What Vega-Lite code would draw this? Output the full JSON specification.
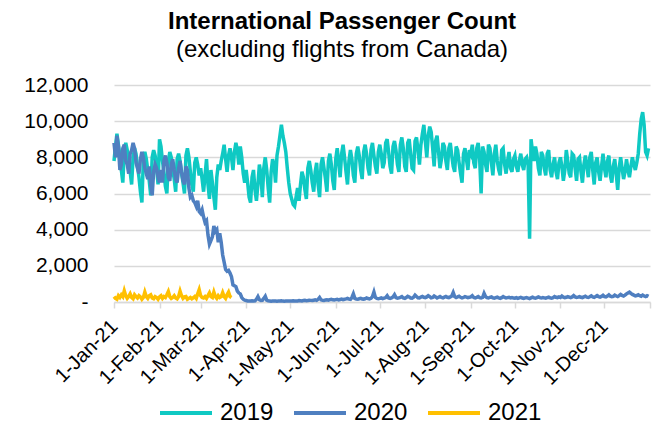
{
  "$schema": "https://vega.github.io/schema/vega-lite/v6.json",
  "autosize": {"type": "none"},
  "width": 536,
  "height": 217,
  "padding": {"left": 114, "top": 85, "right": 16, "bottom": 125},
  "background": "white",
  "title": {
    "text": "International Passenger Count",
    "subtitle": "(excluding flights from Canada)",
    "font": "Liberation Sans",
    "subtitleFont": "Liberation Sans",
    "fontSize": 24,
    "subtitleFontSize": 24,
    "fontWeight": "bold",
    "color": "#000000",
    "subtitleColor": "#000000",
    "anchor": "middle",
    "frame": "group",
    "dx": -40,
    "offset": 12,
    "subtitlePadding": 4
  },
  "data": {"values": [
{"d":"2021/1/1","2019":7800,"2020":8800,"2021":300},
{"d":"2021/1/2","2019":8600,"2020":8000,"2021":200},
{"d":"2021/1/3","2019":9300,"2020":9200,"2021":150},
{"d":"2021/1/4","2019":8700,"2020":8600,"2021":350},
{"d":"2021/1/5","2019":8100,"2020":7300,"2021":250},
{"d":"2021/1/6","2019":7300,"2020":7600,"2021":400},
{"d":"2021/1/7","2019":6600,"2020":8500,"2021":300},
{"d":"2021/1/8","2019":8300,"2020":8700,"2021":620},
{"d":"2021/1/9","2019":8800,"2020":7800,"2021":350},
{"d":"2021/1/10","2019":8400,"2020":7600,"2021":200},
{"d":"2021/1/11","2019":7700,"2020":7100,"2021":300},
{"d":"2021/1/12","2019":7200,"2020":8200,"2021":450},
{"d":"2021/1/13","2019":6500,"2020":8400,"2021":250},
{"d":"2021/1/14","2019":8000,"2020":8800,"2021":180},
{"d":"2021/1/15","2019":8500,"2020":8500,"2021":400},
{"d":"2021/1/16","2019":8200,"2020":7700,"2021":300},
{"d":"2021/1/17","2019":7500,"2020":7400,"2021":220},
{"d":"2021/1/18","2019":6900,"2020":7100,"2021":350},
{"d":"2021/1/19","2019":6100,"2020":7900,"2021":280},
{"d":"2021/1/20","2019":5500,"2020":8300,"2021":150},
{"d":"2021/1/21","2019":7900,"2020":8000,"2021":250},
{"d":"2021/1/22","2019":8300,"2020":7400,"2021":550},
{"d":"2021/1/23","2019":7900,"2020":7100,"2021":300},
{"d":"2021/1/24","2019":7300,"2020":6800,"2021":200},
{"d":"2021/1/25","2019":6700,"2020":7500,"2021":350},
{"d":"2021/1/26","2019":5900,"2020":6500,"2021":400},
{"d":"2021/1/27","2019":8000,"2020":5900,"2021":220},
{"d":"2021/1/28","2019":8400,"2020":7200,"2021":180},
{"d":"2021/1/29","2019":8100,"2020":7600,"2021":300},
{"d":"2021/1/30","2019":7400,"2020":7400,"2021":250},
{"d":"2021/1/31","2019":6500,"2020":6900,"2021":150},
{"d":"2021/2/1","2019":9000,"2020":6600,"2021":280},
{"d":"2021/2/2","2019":8600,"2020":7300,"2021":350},
{"d":"2021/2/3","2019":7800,"2020":6600,"2021":200},
{"d":"2021/2/4","2019":7200,"2020":7800,"2021":300},
{"d":"2021/2/5","2019":6400,"2020":8100,"2021":250},
{"d":"2021/2/6","2019":6000,"2020":7700,"2021":400},
{"d":"2021/2/7","2019":7800,"2020":6900,"2021":580},
{"d":"2021/2/8","2019":8300,"2020":6700,"2021":300},
{"d":"2021/2/9","2019":8000,"2020":7600,"2021":200},
{"d":"2021/2/10","2019":7300,"2020":7900,"2021":250},
{"d":"2021/2/11","2019":6800,"2020":7300,"2021":350},
{"d":"2021/2/12","2019":6100,"2020":6800,"2021":220},
{"d":"2021/2/13","2019":7900,"2020":6600,"2021":170},
{"d":"2021/2/14","2019":8200,"2020":7400,"2021":300},
{"d":"2021/2/15","2019":7800,"2020":7800,"2021":600},
{"d":"2021/2/16","2019":7100,"2020":7200,"2021":350},
{"d":"2021/2/17","2019":6600,"2020":6700,"2021":200},
{"d":"2021/2/18","2019":6000,"2020":6500,"2021":280},
{"d":"2021/2/19","2019":8100,"2020":7500,"2021":300},
{"d":"2021/2/20","2019":8500,"2020":7300,"2021":150},
{"d":"2021/2/21","2019":8000,"2020":6300,"2021":200},
{"d":"2021/2/22","2019":7200,"2020":5800,"2021":250},
{"d":"2021/2/23","2019":6500,"2020":5900,"2021":180},
{"d":"2021/2/24","2019":6100,"2020":5600,"2021":230},
{"d":"2021/2/25","2019":7700,"2020":5500,"2021":300},
{"d":"2021/2/26","2019":8000,"2020":5300,"2021":200},
{"d":"2021/2/27","2019":7600,"2020":5600,"2021":450},
{"d":"2021/2/28","2019":7000,"2020":5000,"2021":680},
{"d":"2021/3/1","2019":7400,"2020":4900,"2021":350},
{"d":"2021/3/2","2019":6800,"2020":5100,"2021":250},
{"d":"2021/3/3","2019":6100,"2020":4700,"2021":220},
{"d":"2021/3/4","2019":7000,"2020":4400,"2021":300},
{"d":"2021/3/5","2019":7900,"2020":4500,"2021":200},
{"d":"2021/3/6","2019":6500,"2020":3700,"2021":350},
{"d":"2021/3/7","2019":5700,"2020":3200,"2021":500},
{"d":"2021/3/8","2019":7300,"2020":3400,"2021":300},
{"d":"2021/3/9","2019":6600,"2020":3600,"2021":250},
{"d":"2021/3/10","2019":5800,"2020":4200,"2021":550},
{"d":"2021/3/11","2019":5100,"2020":3900,"2021":300},
{"d":"2021/3/12","2019":6900,"2020":4000,"2021":200},
{"d":"2021/3/13","2019":7600,"2020":3300,"2021":350},
{"d":"2021/3/14","2019":7300,"2020":3800,"2021":250},
{"d":"2021/3/15","2019":7800,"2020":3300,"2021":300},
{"d":"2021/3/16","2019":8200,"2020":2600,"2021":520},
{"d":"2021/3/17","2019":8700,"2020":2200,"2021":300},
{"d":"2021/3/18","2019":7900,"2020":1800,"2021":200},
{"d":"2021/3/19","2019":7200,"2020":1700,"2021":400},
{"d":"2021/3/20","2019":8100,"2020":1750,"2021":550},
{"d":"2021/3/21","2019":8500,"2020":1600,"2021":300},
{"d":"2021/3/22","2019":8000,"2020":1400,"2021":250},
{"d":"2021/3/23","2019":7300,"2020":950},
{"d":"2021/3/24","2019":8300,"2020":900},
{"d":"2021/3/25","2019":8800,"2020":850},
{"d":"2021/3/26","2019":8400,"2020":600},
{"d":"2021/3/27","2019":7600,"2020":500},
{"d":"2021/3/28","2019":8600,"2020":450},
{"d":"2021/3/29","2019":8000,"2020":250},
{"d":"2021/3/30","2019":7100,"2020":150},
{"d":"2021/3/31","2019":6600,"2020":100},
{"d":"2021/4/1","2019":7300,"2020":80},
{"d":"2021/4/2","2019":6600,"2020":60},
{"d":"2021/4/3","2019":5800,"2020":50},
{"d":"2021/4/4","2019":5500,"2020":60},
{"d":"2021/4/5","2019":6900,"2020":70},
{"d":"2021/4/6","2019":7300,"2020":50},
{"d":"2021/4/7","2019":6200,"2020":60},
{"d":"2021/4/8","2019":5600,"2020":150},
{"d":"2021/4/9","2019":6500,"2020":300},
{"d":"2021/4/10","2019":7600,"2020":120},
{"d":"2021/4/11","2019":7100,"2020":80},
{"d":"2021/4/12","2019":5800,"2020":90},
{"d":"2021/4/13","2019":7400,"2020":200},
{"d":"2021/4/14","2019":8000,"2020":320},
{"d":"2021/4/15","2019":7300,"2020":100},
{"d":"2021/4/16","2019":6300,"2020":60},
{"d":"2021/4/17","2019":5500,"2020":50},
{"d":"2021/4/18","2019":7200,"2020":40},
{"d":"2021/4/19","2019":7900,"2020":50},
{"d":"2021/4/20","2019":7600,"2020":60},
{"d":"2021/4/21","2019":6600,"2020":50},
{"d":"2021/4/22","2019":8100,"2020":40},
{"d":"2021/4/23","2019":8600,"2020":50},
{"d":"2021/4/24","2019":9200,"2020":60},
{"d":"2021/4/25","2019":9800,"2020":70},
{"d":"2021/4/26","2019":9200,"2020":50},
{"d":"2021/4/27","2019":8800,"2020":40},
{"d":"2021/4/28","2019":8300,"2020":50},
{"d":"2021/4/29","2019":7400,"2020":60},
{"d":"2021/4/30","2019":6600,"2020":50},
{"d":"2021/5/1","2019":6000,"2020":50},
{"d":"2021/5/2","2019":5700,"2020":60},
{"d":"2021/5/3","2019":5400,"2020":70},
{"d":"2021/5/4","2019":5300,"2020":60},
{"d":"2021/5/5","2019":5800,"2020":50},
{"d":"2021/5/6","2019":6300,"2020":60},
{"d":"2021/5/7","2019":5600,"2020":80},
{"d":"2021/5/8","2019":6500,"2020":70},
{"d":"2021/5/9","2019":7200,"2020":60},
{"d":"2021/5/10","2019":6900,"2020":80},
{"d":"2021/5/11","2019":6200,"2020":90},
{"d":"2021/5/12","2019":5700,"2020":70},
{"d":"2021/5/13","2019":7400,"2020":80},
{"d":"2021/5/14","2019":7800,"2020":100},
{"d":"2021/5/15","2019":7300,"2020":90},
{"d":"2021/5/16","2019":6600,"2020":80},
{"d":"2021/5/17","2019":6100,"2020":100},
{"d":"2021/5/18","2019":7200,"2020":120},
{"d":"2021/5/19","2019":7700,"2020":90},
{"d":"2021/5/20","2019":6500,"2020":150},
{"d":"2021/5/21","2019":5800,"2020":250},
{"d":"2021/5/22","2019":7600,"2020":120},
{"d":"2021/5/23","2019":8000,"2020":100},
{"d":"2021/5/24","2019":7400,"2020":90},
{"d":"2021/5/25","2019":6800,"2020":110},
{"d":"2021/5/26","2019":6100,"2020":120},
{"d":"2021/5/27","2019":7800,"2020":100},
{"d":"2021/5/28","2019":8200,"2020":130},
{"d":"2021/5/29","2019":7600,"2020":150},
{"d":"2021/5/30","2019":6700,"2020":120},
{"d":"2021/5/31","2019":6200,"2020":110},
{"d":"2021/6/1","2019":7900,"2020":130},
{"d":"2021/6/2","2019":8500,"2020":150},
{"d":"2021/6/3","2019":7700,"2020":120},
{"d":"2021/6/4","2019":6900,"2020":140},
{"d":"2021/6/5","2019":8200,"2020":160},
{"d":"2021/6/6","2019":8700,"2020":130},
{"d":"2021/6/7","2019":8000,"2020":150},
{"d":"2021/6/8","2019":7200,"2020":170},
{"d":"2021/6/9","2019":6500,"2020":200},
{"d":"2021/6/10","2019":7800,"2020":160},
{"d":"2021/6/11","2019":8400,"2020":150},
{"d":"2021/6/12","2019":7900,"2020":250},
{"d":"2021/6/13","2019":7000,"2020":450},
{"d":"2021/6/14","2019":6600,"2020":200},
{"d":"2021/6/15","2019":8200,"2020":160},
{"d":"2021/6/16","2019":8600,"2020":150},
{"d":"2021/6/17","2019":8100,"2020":180},
{"d":"2021/6/18","2019":7300,"2020":200},
{"d":"2021/6/19","2019":6800,"2020":170},
{"d":"2021/6/20","2019":8300,"2020":160},
{"d":"2021/6/21","2019":8700,"2020":180},
{"d":"2021/6/22","2019":8200,"2020":220},
{"d":"2021/6/23","2019":7400,"2020":190},
{"d":"2021/6/24","2019":7000,"2020":170},
{"d":"2021/6/25","2019":8400,"2020":200},
{"d":"2021/6/26","2019":8800,"2020":300},
{"d":"2021/6/27","2019":8100,"2020":550},
{"d":"2021/6/28","2019":7500,"2020":250},
{"d":"2021/6/29","2019":7100,"2020":200},
{"d":"2021/6/30","2019":8300,"2020":180},
{"d":"2021/7/1","2019":8700,"2020":200},
{"d":"2021/7/2","2019":8200,"2020":230},
{"d":"2021/7/3","2019":7400,"2020":190},
{"d":"2021/7/4","2019":7700,"2020":210},
{"d":"2021/7/5","2019":8800,"2020":250},
{"d":"2021/7/6","2019":9000,"2020":350},
{"d":"2021/7/7","2019":8300,"2020":220},
{"d":"2021/7/8","2019":7500,"2020":200},
{"d":"2021/7/9","2019":7100,"2020":230},
{"d":"2021/7/10","2019":8600,"2020":280},
{"d":"2021/7/11","2019":8900,"2020":400},
{"d":"2021/7/12","2019":8400,"2020":240},
{"d":"2021/7/13","2019":7600,"2020":210},
{"d":"2021/7/14","2019":7200,"2020":230},
{"d":"2021/7/15","2019":8700,"2020":260},
{"d":"2021/7/16","2019":9100,"2020":300},
{"d":"2021/7/17","2019":8500,"2020":220},
{"d":"2021/7/18","2019":7500,"2020":200},
{"d":"2021/7/19","2019":7200,"2020":250},
{"d":"2021/7/20","2019":8800,"2020":320},
{"d":"2021/7/21","2019":9000,"2020":280},
{"d":"2021/7/22","2019":8200,"2020":220},
{"d":"2021/7/23","2019":7400,"2020":210},
{"d":"2021/7/24","2019":7300,"2020":260},
{"d":"2021/7/25","2019":8900,"2020":380},
{"d":"2021/7/26","2019":9100,"2020":300},
{"d":"2021/7/27","2019":8400,"2020":230},
{"d":"2021/7/28","2019":7600,"2020":220},
{"d":"2021/7/29","2019":8700,"2020":270},
{"d":"2021/7/30","2019":9300,"2020":310},
{"d":"2021/7/31","2019":9800,"2020":260},
{"d":"2021/8/1","2019":8900,"2020":240},
{"d":"2021/8/2","2019":8000,"2020":280},
{"d":"2021/8/3","2019":9200,"2020":350},
{"d":"2021/8/4","2019":9700,"2020":300},
{"d":"2021/8/5","2019":9400,"2020":230},
{"d":"2021/8/6","2019":8500,"2020":250},
{"d":"2021/8/7","2019":7500,"2020":330},
{"d":"2021/8/8","2019":8900,"2020":280},
{"d":"2021/8/9","2019":9200,"2020":220},
{"d":"2021/8/10","2019":8300,"2020":260},
{"d":"2021/8/11","2019":7400,"2020":300},
{"d":"2021/8/12","2019":7900,"2020":250},
{"d":"2021/8/13","2019":8800,"2020":230},
{"d":"2021/8/14","2019":8600,"2020":270},
{"d":"2021/8/15","2019":7800,"2020":310},
{"d":"2021/8/16","2019":7300,"2020":260},
{"d":"2021/8/17","2019":8500,"2020":240},
{"d":"2021/8/18","2019":8800,"2020":280},
{"d":"2021/8/19","2019":8100,"2020":330},
{"d":"2021/8/20","2019":7500,"2020":520},
{"d":"2021/8/21","2019":7200,"2020":300},
{"d":"2021/8/22","2019":8600,"2020":250},
{"d":"2021/8/23","2019":8400,"2020":280},
{"d":"2021/8/24","2019":7700,"2020":320},
{"d":"2021/8/25","2019":7100,"2020":260},
{"d":"2021/8/26","2019":6600,"2020":230},
{"d":"2021/8/27","2019":8200,"2020":250},
{"d":"2021/8/28","2019":8500,"2020":300},
{"d":"2021/8/29","2019":7900,"2020":270},
{"d":"2021/8/30","2019":7300,"2020":240},
{"d":"2021/8/31","2019":8400,"2020":260},
{"d":"2021/9/1","2019":8200,"2020":280},
{"d":"2021/9/2","2019":8700,"2020":350},
{"d":"2021/9/3","2019":7700,"2020":250},
{"d":"2021/9/4","2019":7400,"2020":230},
{"d":"2021/9/5","2019":8500,"2020":260},
{"d":"2021/9/6","2019":8800,"2020":300},
{"d":"2021/9/7","2019":7900,"2020":240},
{"d":"2021/9/8","2019":6000,"2020":220},
{"d":"2021/9/9","2019":8600,"2020":250},
{"d":"2021/9/10","2019":8300,"2020":480},
{"d":"2021/9/11","2019":7600,"2020":300},
{"d":"2021/9/12","2019":7200,"2020":240},
{"d":"2021/9/13","2019":8700,"2020":220},
{"d":"2021/9/14","2019":8500,"2020":260},
{"d":"2021/9/15","2019":7700,"2020":280},
{"d":"2021/9/16","2019":7000,"2020":230},
{"d":"2021/9/17","2019":8200,"2020":210},
{"d":"2021/9/18","2019":8700,"2020":240},
{"d":"2021/9/19","2019":7800,"2020":270},
{"d":"2021/9/20","2019":7300,"2020":230},
{"d":"2021/9/21","2019":7000,"2020":200},
{"d":"2021/9/22","2019":8400,"2020":240},
{"d":"2021/9/23","2019":8500,"2020":300},
{"d":"2021/9/24","2019":7600,"2020":250},
{"d":"2021/9/25","2019":7100,"2020":220},
{"d":"2021/9/26","2019":7800,"2020":240},
{"d":"2021/9/27","2019":8300,"2020":260},
{"d":"2021/9/28","2019":7400,"2020":230},
{"d":"2021/9/29","2019":7200,"2020":250},
{"d":"2021/9/30","2019":7900,"2020":220},
{"d":"2021/10/1","2019":8100,"2020":210},
{"d":"2021/10/2","2019":7500,"2020":240},
{"d":"2021/10/3","2019":7200,"2020":200},
{"d":"2021/10/4","2019":7800,"2020":230},
{"d":"2021/10/5","2019":8200,"2020":260},
{"d":"2021/10/6","2019":7600,"2020":220},
{"d":"2021/10/7","2019":7300,"2020":200},
{"d":"2021/10/8","2019":7900,"2020":230},
{"d":"2021/10/9","2019":8000,"2020":250},
{"d":"2021/10/10","2019":7600,"2020":210},
{"d":"2021/10/11","2019":3500,"2020":190},
{"d":"2021/10/12","2019":9000,"2020":230},
{"d":"2021/10/13","2019":8300,"2020":270},
{"d":"2021/10/14","2019":7800,"2020":230},
{"d":"2021/10/15","2019":8600,"2020":210},
{"d":"2021/10/16","2019":8200,"2020":240},
{"d":"2021/10/17","2019":7400,"2020":280},
{"d":"2021/10/18","2019":7000,"2020":240},
{"d":"2021/10/19","2019":8300,"2020":220},
{"d":"2021/10/20","2019":8100,"2020":250},
{"d":"2021/10/21","2019":7400,"2020":230},
{"d":"2021/10/22","2019":7000,"2020":210},
{"d":"2021/10/23","2019":8200,"2020":240},
{"d":"2021/10/24","2019":8400,"2020":270},
{"d":"2021/10/25","2019":7300,"2020":230},
{"d":"2021/10/26","2019":6900,"2020":210},
{"d":"2021/10/27","2019":7600,"2020":240},
{"d":"2021/10/28","2019":8000,"2020":300},
{"d":"2021/10/29","2019":7200,"2020":260},
{"d":"2021/10/30","2019":6800,"2020":240},
{"d":"2021/10/31","2019":7700,"2020":280},
{"d":"2021/11/1","2019":8000,"2020":250},
{"d":"2021/11/2","2019":7500,"2020":330},
{"d":"2021/11/3","2019":6700,"2020":270},
{"d":"2021/11/4","2019":7300,"2020":240},
{"d":"2021/11/5","2019":8400,"2020":260},
{"d":"2021/11/6","2019":7800,"2020":300},
{"d":"2021/11/7","2019":7100,"2020":270},
{"d":"2021/11/8","2019":6900,"2020":240},
{"d":"2021/11/9","2019":8200,"2020":280},
{"d":"2021/11/10","2019":8100,"2020":350},
{"d":"2021/11/11","2019":7400,"2020":280},
{"d":"2021/11/12","2019":6700,"2020":250},
{"d":"2021/11/13","2019":7900,"2020":270},
{"d":"2021/11/14","2019":8000,"2020":300},
{"d":"2021/11/15","2019":7200,"2020":260},
{"d":"2021/11/16","2019":6600,"2020":240},
{"d":"2021/11/17","2019":7600,"2020":280},
{"d":"2021/11/18","2019":8100,"2020":320},
{"d":"2021/11/19","2019":7500,"2020":270},
{"d":"2021/11/20","2019":6900,"2020":250},
{"d":"2021/11/21","2019":8000,"2020":290},
{"d":"2021/11/22","2019":8300,"2020":340},
{"d":"2021/11/23","2019":7300,"2020":280},
{"d":"2021/11/24","2019":6500,"2020":260},
{"d":"2021/11/25","2019":7700,"2020":300},
{"d":"2021/11/26","2019":8000,"2020":350},
{"d":"2021/11/27","2019":7200,"2020":300},
{"d":"2021/11/28","2019":6700,"2020":270},
{"d":"2021/11/29","2019":7500,"2020":310},
{"d":"2021/11/30","2019":8200,"2020":370},
{"d":"2021/12/1","2019":7400,"2020":300},
{"d":"2021/12/2","2019":6900,"2020":280},
{"d":"2021/12/3","2019":7800,"2020":330},
{"d":"2021/12/4","2019":8100,"2020":400},
{"d":"2021/12/5","2019":7000,"2020":320},
{"d":"2021/12/6","2019":6600,"2020":290},
{"d":"2021/12/7","2019":7500,"2020":310},
{"d":"2021/12/8","2019":7900,"2020":380},
{"d":"2021/12/9","2019":7100,"2020":330},
{"d":"2021/12/10","2019":6200,"2020":300},
{"d":"2021/12/11","2019":7400,"2020":350},
{"d":"2021/12/12","2019":8000,"2020":420},
{"d":"2021/12/13","2019":7400,"2020":360},
{"d":"2021/12/14","2019":6800,"2020":330},
{"d":"2021/12/15","2019":7200,"2020":380},
{"d":"2021/12/16","2019":7900,"2020":450},
{"d":"2021/12/17","2019":7300,"2020":500},
{"d":"2021/12/18","2019":6900,"2020":550},
{"d":"2021/12/19","2019":7500,"2020":480},
{"d":"2021/12/20","2019":8000,"2020":420},
{"d":"2021/12/21","2019":7600,"2020":380},
{"d":"2021/12/22","2019":7300,"2020":340},
{"d":"2021/12/23","2019":7700,"2020":360},
{"d":"2021/12/24","2019":8200,"2020":400},
{"d":"2021/12/25","2019":9300,"2020":350},
{"d":"2021/12/26","2019":10100,"2020":320},
{"d":"2021/12/27","2019":10500,"2020":380},
{"d":"2021/12/28","2019":9800,"2020":330},
{"d":"2021/12/29","2019":8300,"2020":300},
{"d":"2021/12/30","2019":8100,"2020":350},
{"d":"2021/12/31","2019":8500,"2020":310}
  ]},
  "transform": [
    {"fold": ["2019", "2020", "2021"], "as": ["series", "count"]},
    {"filter": "isValid(datum.count)"}
  ],
  "mark": {"type": "line", "strokeWidth": 3.5, "interpolate": "linear"},
  "encoding": {
    "x": {
      "field": "d",
      "type": "temporal",
      "scale": {"domain": [{"year": 2021, "month": 1, "date": 1}, {"year": 2022, "month": 1, "date": 1}]},
      "axis": {
        "title": null,
        "values": [
          {"year": 2021, "month": 1, "date": 1},
          {"year": 2021, "month": 2, "date": 1},
          {"year": 2021, "month": 3, "date": 1},
          {"year": 2021, "month": 4, "date": 1},
          {"year": 2021, "month": 5, "date": 1},
          {"year": 2021, "month": 6, "date": 1},
          {"year": 2021, "month": 7, "date": 1},
          {"year": 2021, "month": 8, "date": 1},
          {"year": 2021, "month": 9, "date": 1},
          {"year": 2021, "month": 10, "date": 1},
          {"year": 2021, "month": 11, "date": 1},
          {"year": 2021, "month": 12, "date": 1},
          {"year": 2022, "month": 1, "date": 1}
        ],
        "format": "%-d-%b-%y",
        "labelExpr": "year(datum.value) > 2021 ? '' : datum.label",
        "labelAngle": -45,
        "labelAlign": "right",
        "labelBaseline": "middle",
        "labelFont": "Liberation Sans",
        "labelFontSize": 20,
        "labelColor": "#000000",
        "labelPadding": 15,
        "labelOverlap": false,
        "labelBound": false,
        "labelFlush": false,
        "grid": false,
        "domainColor": "#D9D9D9",
        "domainWidth": 1.5,
        "tickColor": "#D9D9D9",
        "tickWidth": 1.5,
        "tickSize": 6
      }
    },
    "y": {
      "field": "count",
      "type": "quantitative",
      "scale": {"domain": [0, 12000], "nice": false},
      "axis": {
        "title": null,
        "values": [0, 2000, 4000, 6000, 8000, 10000, 12000],
        "labelExpr": "datum.value == 0 ? '-' : format(datum.value, ',')",
        "labelFont": "Liberation Sans",
        "labelFontSize": 21,
        "labelColor": "#000000",
        "labelPadding": 26,
        "domain": false,
        "ticks": false,
        "grid": true,
        "gridColor": "#D9D9D9",
        "gridWidth": 1.5
      }
    },
    "color": {
      "field": "series",
      "type": "nominal",
      "scale": {"domain": ["2019", "2020", "2021"], "range": ["#0FC9C3", "#4F7FC0", "#FFC000"]},
      "legend": {
        "title": null,
        "orient": "none",
        "direction": "horizontal",
        "legendX": 44,
        "legendY": 300,
        "symbolType": "stroke",
        "symbolSize": 2704,
        "symbolStrokeWidth": 4,
        "labelFont": "Liberation Sans",
        "labelFontSize": 24,
        "labelColor": "#000000",
        "labelOffset": 6,
        "columnPadding": 12
      }
    }
  },
  "config": {"view": {"stroke": null}}
}
